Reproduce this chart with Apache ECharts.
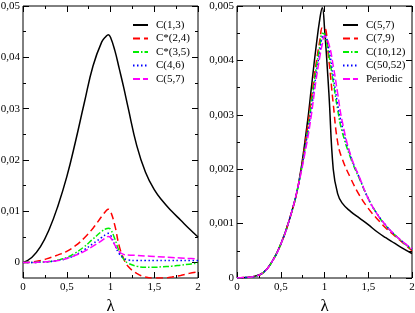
<!DOCTYPE html>
<html>
<head>
<meta charset="utf-8">
<script src="https://cdn.jsdelivr.net/npm/echarts@6/dist/echarts.min.js"></script>
<style>html,body{margin:0;padding:0;background:#fff}#c{width:415px;height:313px}</style>
</head>
<body>
<div id="c"></div>
<script>
// ---- Left panel data ----
var lamL = [0,0.1,0.2,0.3,0.4,0.5,0.6,0.7,0.8,0.9,0.95,0.975,1.0,1.05,1.1,1.15,1.2,1.3,1.4,1.5,1.6,1.7,1.8,1.9,2.0];
var c13  = [0,0.0010,0.0031,0.0065,0.0111,0.0167,0.0236,0.0311,0.0383,0.0430,0.0441,0.0444,0.0439,0.0413,0.0378,0.0342,0.0303,0.0228,0.0176,0.0142,0.0119,0.0100,0.0083,0.0066,0.0050];
var c24s = [0,0.0001,0.0004,0.0009,0.0015,0.0022,0.0033,0.0048,0.0067,0.0090,0.0101,0.0104,0.0100,0.0072,0.0032,0.0008,-0.0007,-0.0021,-0.0028,-0.0030,-0.0030,-0.0028,-0.0025,-0.0021,-0.0018];
var c35s = [0,0,0.0001,0.0002,0.0005,0.0010,0.0019,0.0031,0.0046,0.0061,0.0066,0.0067,0.0065,0.0046,0.0022,0.0007,-0.0001,-0.0007,-0.0009,-0.0009,-0.0008,-0.0007,-0.0005,-0.0003,-0.0001];
var c46  = [0,0,0.0001,0.0002,0.0004,0.0008,0.0015,0.0025,0.0037,0.0049,0.0055,0.0057,0.0054,0.0034,0.0017,0.0009,0.0005,0.0004,0.0004,0.0004,0.0004,0.0004,0.0004,0.0004,0.0004];
var c57L = [0,0,0.0001,0.0002,0.0004,0.0008,0.0014,0.0022,0.0032,0.0043,0.0049,0.0051,0.0049,0.0034,0.0021,0.0016,0.0015,0.0014,0.0013,0.0012,0.0011,0.0010,0.0009,0.0008,0.0007];
var namesL = ['C(1,3)','C*(2,4)','C*(3,5)','C(4,6)','C(5,7)'];

// ---- Right panel data ----
var lamR = [0,0.1,0.2,0.3,0.4,0.5,0.6,0.7,0.8,0.85,0.9,0.95,0.975,1.0,1.05,1.1,1.15,1.2,1.3,1.4,1.5,1.6,1.7,1.8,1.9,2.0];
var c57R = [0,0.00001,0.00003,0.0001,0.0003,0.00062,0.00108,0.0017,0.0028,0.0035,0.0042,0.0048,0.00497,0.0046,0.0034,0.0020,0.00155,0.00138,0.00122,0.0011,0.00098,0.00085,0.00074,0.00064,0.00054,0.00045];
var c79  = [0,0.00001,0.00003,0.0001,0.0003,0.00062,0.00108,0.0017,0.0027,0.0033,0.0039,0.0044,0.0046,0.0046,0.0040,0.0032,0.0025,0.0022,0.00183,0.00152,0.00128,0.00109,0.00092,0.00078,0.00064,0.0005];
var c1012= [0,0.00001,0.00003,0.0001,0.0003,0.00062,0.00108,0.0017,0.0026,0.0032,0.0038,0.0043,0.0045,0.00448,0.0041,0.0036,0.0031,0.0027,0.0022,0.00182,0.00146,0.00118,0.00096,0.0008,0.00065,0.00052];
var c5052= [0,0.00001,0.00003,0.0001,0.0003,0.00062,0.00108,0.0017,0.0026,0.0031,0.0037,0.0042,0.00443,0.00446,0.0042,0.0037,0.0032,0.0028,0.00223,0.00184,0.00146,0.00118,0.00097,0.0008,0.00066,0.00053];
var per  = [0,0.00001,0.00003,0.0001,0.0003,0.00062,0.00108,0.0017,0.0025,0.0030,0.0036,0.0041,0.0043,0.00445,0.0043,0.0039,0.0034,0.0029,0.00225,0.00185,0.00146,0.00118,0.00097,0.0008,0.00066,0.00054];
var namesR = ['C(5,7) ','C(7,9)','C(10,12)','C(50,52)','Periodic'];

// ---- Tick values ----
var yMajorL = [0,0.01,0.02,0.03,0.04,0.05];
var yMinorL = [0.005,0.015,0.025,0.035,0.045];

function zip(xs, ys){ return xs.map(function(x,i){ return [x, ys[i]]; }); }
var FONT = "'Liberation Serif', 'Times New Roman', serif";
function fmt(v, d){ if (Math.abs(v) < 1e-12) return '0'; return (+v).toFixed(d).replace(/0+$/,'').replace(/\.$/,'').replace('.', ','); }

function xAx(g, pos, labels){
  return {
    type:'value', gridIndex:g, position:pos, min:0, max:2, interval:0.5,
    axisLine:{show:false, onZero:false}, splitLine:{show:false},
    axisTick:{show:true, inside:true, length:6, lineStyle:{color:'#000'}},
    minorTick:{show:true, splitNumber:2, length:3, lineStyle:{color:'#000'}},
    axisLabel:{show:labels, margin:4, color:'#000', fontFamily:FONT, fontSize:11, formatter:function(v){return fmt(v,1);}},
    name: labels ? 'λ' : '', nameLocation:'middle', nameGap:18,
    nameTextStyle:{fontFamily:FONT, fontSize:17, color:'#000'}
  };
}
function yAxL(pos, vals, len, labels){
  return {
    type:'value', gridIndex:0, position:pos, min:-0.003, max:0.05,
    axisLine:{show:false, onZero:false}, splitLine:{show:false},
    axisTick:{show:true, inside:true, length:len, customValues:vals, lineStyle:{color:'#000'}},
    axisLabel:{show:labels, customValues:vals, margin:3, color:'#000', fontFamily:FONT, fontSize:11, formatter:function(v){return fmt(v,2);}}
  };
}
function yAxR(pos, labels){
  return {
    type:'value', gridIndex:1, position:pos, min:0, max:0.005, interval:0.001,
    axisLine:{show:false, onZero:false}, splitLine:{show:false},
    axisTick:{show:true, inside:true, length:6, lineStyle:{color:'#000'}},
    minorTick:{show:true, splitNumber:2, length:3, lineStyle:{color:'#000'}},
    axisLabel:{show:labels, margin:3, color:'#000', fontFamily:FONT, fontSize:11, formatter:function(v){return fmt(v,3);}}
  };
}

var styles = [
  {color:'#000000', type:'solid'},
  {color:'#ff0000', type:[7,4]},
  {color:'#00ee00', type:[6,2,1.5,2]},
  {color:'#0000ff', type:[1.5,2.5]},
  {color:'#ff00ff', type:[7,3]}
];
function ser(name, xs, ys, i, xi, yi){
  return {
    type:'line', name:name, xAxisIndex:xi, yAxisIndex:yi, data:zip(xs, ys),
    symbol:'none', showSymbol:false, smooth:0.45, animation:false, clip:true,
    lineStyle:{color:styles[i].color, type:styles[i].type, width:1.5},
    itemStyle:{color:styles[i].color}
  };
}

var seriesL = [c13, c24s, c35s, c46, c57L];
var seriesR = [c57R, c79, c1012, c5052, per];
var series = [];
seriesL.forEach(function(d,i){ series.push(ser(namesL[i], lamL, d, i, 0, 0)); });
seriesR.forEach(function(d,i){ series.push(ser(namesR[i], lamR, d, i, 2, 4)); });

var legendBase = {
  orient:'vertical', itemWidth:15, itemHeight:10, itemGap:2.5, padding:0,
  textStyle:{fontFamily:FONT, fontSize:11, lineHeight:11, color:'#000', padding:[0,0,0,3]},
  itemStyle:{opacity:0},
  formatter:function(n){ return n.trim(); },
  selectedMode:false
};

var option = {
  animation:false,
  backgroundColor:'#fff',
  grid:[
    {left:23, top:6, width:175, height:272, show:true, borderColor:'#000', borderWidth:1, backgroundColor:'transparent', containLabel:false, outerBoundsMode:'none'},
    {left:237, top:6, width:175, height:272, show:true, borderColor:'#000', borderWidth:1, backgroundColor:'transparent', containLabel:false, outerBoundsMode:'none'}
  ],
  xAxis:[xAx(0,'bottom',true), xAx(0,'top',false), xAx(1,'bottom',true), xAx(1,'top',false)],
  yAxis:[
    yAxL('left', yMajorL, 6, true), yAxL('left', yMinorL, 3, false),
    yAxL('right', yMajorL, 6, false), yAxL('right', yMinorL, 3, false),
    yAxR('left', true), yAxR('right', false)
  ],
  legend:[
    Object.assign({}, legendBase, {left:132, top:19.5, data:namesL}),
    Object.assign({}, legendBase, {left:342, top:19.5, data:namesR})
  ],
  series:series
};
var chart = echarts.init(document.getElementById('c'), null, {renderer:'canvas'});
chart.setOption(option);
</script>
</body>
</html>
